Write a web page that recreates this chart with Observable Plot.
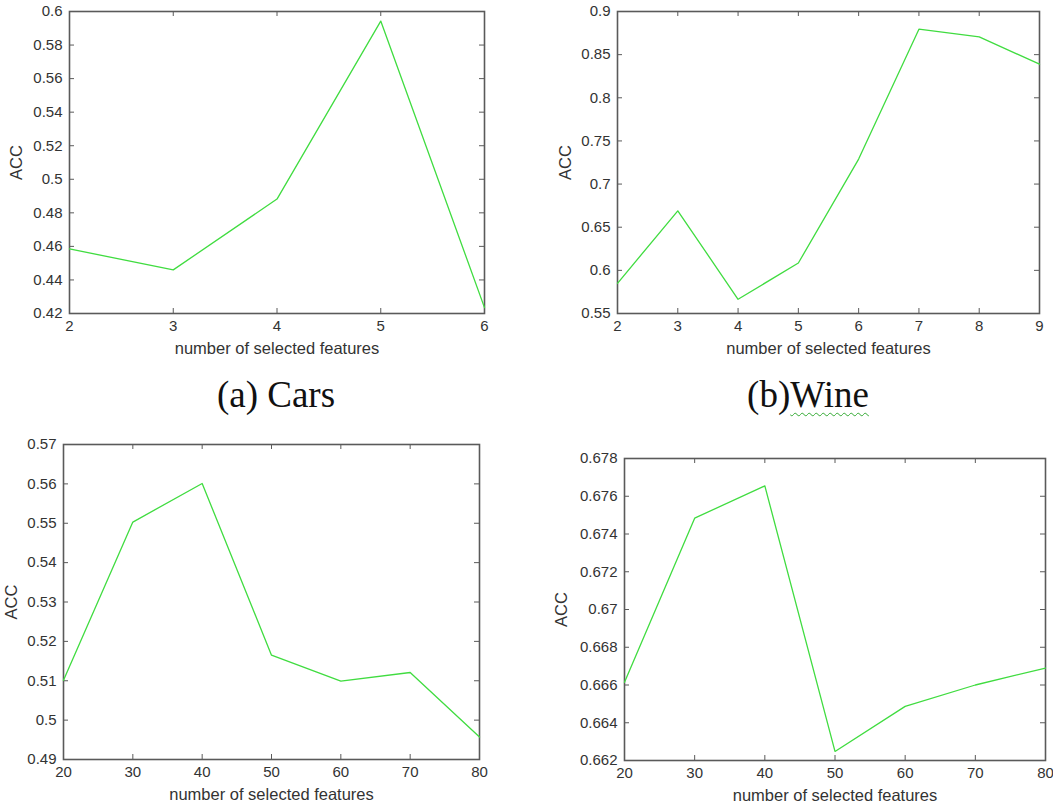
<!DOCTYPE html>
<html>
<head>
<meta charset="utf-8">
<script src="https://cdn.jsdelivr.net/npm/d3@7"></script>
<script src="https://cdn.jsdelivr.net/npm/@observablehq/plot@0.6"></script>
<style>
  html, body { margin: 0; padding: 0; background: #fff; }
  body { width: 1053px; height: 807px; position: relative; overflow: hidden; }
  .panel { position: absolute; }
  .caption { position: absolute; font-family: "Liberation Serif", "Times New Roman", serif; font-size: 37px; line-height: 1; color: #111; white-space: nowrap; transform: translateX(-50%); }
  .squiggle { text-decoration: underline wavy #3a3; text-decoration-thickness: 1px; text-underline-offset: 5px; }
</style>
</head>
<body>
<div id="pa" class="panel" style="left:0;top:0"></div>
<div id="pb" class="panel" style="left:530px;top:0"></div>
<div id="pc" class="panel" style="left:0;top:420px"></div>
<div id="pd" class="panel" style="left:530px;top:420px"></div>
<div class="caption" style="left:276px;top:376px">(a) Cars</div>
<div class="caption" style="left:808px;top:376px">(b)<span class="squiggle">Wine</span></div>
<script>
// ---- data ----
const carsX = [2, 3, 4, 5, 6];
const carsACC = [0.4585, 0.4460, 0.4882, 0.5943, 0.4235];
const carsYTicks = [0.42, 0.44, 0.46, 0.48, 0.5, 0.52, 0.54, 0.56, 0.58, 0.6];

const wineX = [2, 3, 4, 5, 6, 7, 8, 9];
const wineACC = [0.585, 0.669, 0.5665, 0.6085, 0.729, 0.8795, 0.8705, 0.839];
const wineYTicks = [0.55, 0.6, 0.65, 0.7, 0.75, 0.8, 0.85, 0.9];

const cX = [20, 30, 40, 50, 60, 70, 80];
const cACC = [0.5101, 0.5503, 0.5601, 0.5165, 0.5099, 0.5121, 0.4957];
const cYTicks = [0.49, 0.5, 0.51, 0.52, 0.53, 0.54, 0.55, 0.56, 0.57];

const dX = [20, 30, 40, 50, 60, 70, 80];
const dACC = [0.66614, 0.67484, 0.67655, 0.66248, 0.66487, 0.66600, 0.66690];
const dYTicks = [0.662, 0.664, 0.666, 0.668, 0.67, 0.672, 0.674, 0.676, 0.678];

const xLabel = "number of selected features";
const yLabel = "ACC";

// ---- drawing ----
const lineColor = "#40dc40";
const frameColor = "#5a5a5a";
const textColor = "#333";
const fmt = d => String(+d.toFixed(6));

function panel(el, xs, ys, xTicks, yTicks, m) {
  const data = xs.map((x, i) => ({x, y: ys[i]}));
  const xDom = [xTicks[0], xTicks[xTicks.length - 1]];
  const yDom = [yTicks[0], yTicks[yTicks.length - 1]];
  const ih = m.height - m.top - m.bottom;
  const iw = m.width - m.left - m.right;
  const ty = (yDom[1] - yDom[0]) * 5 / ih; // 5px inward ticks
  const tx = (xDom[1] - xDom[0]) * 5 / iw;
  const chart = Plot.plot({
    width: m.width, height: m.height,
    marginLeft: m.left, marginRight: m.right, marginTop: m.top, marginBottom: m.bottom,
    style: {fontFamily: "'Liberation Sans', Arial, sans-serif", color: textColor, background: "transparent", overflow: "visible"},
    x: {domain: xDom},
    y: {domain: yDom},
    marks: [
      Plot.axisX(xTicks, {tickSize: 0, tickPadding: 7, fontSize: 15, tickFormat: fmt, label: null}),
      Plot.axisX(xTicks, {tickSize: 0, tickFormat: () => "", fontSize: 16.5, label: xLabel, labelAnchor: "center", labelOffset: 40, labelArrow: "none"}),
      Plot.axisY(yTicks, {tickSize: 0, tickPadding: 7, fontSize: 15, tickFormat: fmt, label: null}),
      Plot.axisY(yTicks, {tickSize: 0, tickFormat: () => "", fontSize: 16.5, label: yLabel, labelAnchor: "center", labelOffset: m.labelOffsetY, labelArrow: "none"}),
      Plot.ruleX(xTicks, {x: d => d, y1: yDom[0], y2: yDom[0] + ty, stroke: frameColor, strokeWidth: 1}),
      Plot.ruleX(xTicks, {x: d => d, y1: yDom[1], y2: yDom[1] - ty, stroke: frameColor, strokeWidth: 1}),
      Plot.ruleY(yTicks, {y: d => d, x1: xDom[0], x2: xDom[0] + tx, stroke: frameColor, strokeWidth: 1}),
      Plot.ruleY(yTicks, {y: d => d, x1: xDom[1], x2: xDom[1] - tx, stroke: frameColor, strokeWidth: 1}),
      Plot.frame({stroke: frameColor, strokeWidth: 1.6}),
      Plot.line(data, {x: "x", y: "y", stroke: lineColor, strokeWidth: 1.3})
    ]
  });
  document.getElementById(el).appendChild(chart);
}

panel("pa", carsX, carsACC, carsX, carsYTicks, {width: 530, height: 360, left: 69, right: 46, top: 11, bottom: 47, labelOffsetY: 59});
panel("pb", wineX, wineACC, wineX, wineYTicks, {width: 523, height: 360, left: 87, right: 14, top: 11, bottom: 47, labelOffsetY: 58});
panel("pc", cX, cACC, cX, cYTicks, {width: 530, height: 387, left: 63, right: 51, top: 24, bottom: 48, labelOffsetY: 58});
panel("pd", dX, dACC, dX, dYTicks, {width: 523, height: 387, left: 94, right: 8, top: 38, bottom: 47, labelOffsetY: 69});
</script>
</body>
</html>
